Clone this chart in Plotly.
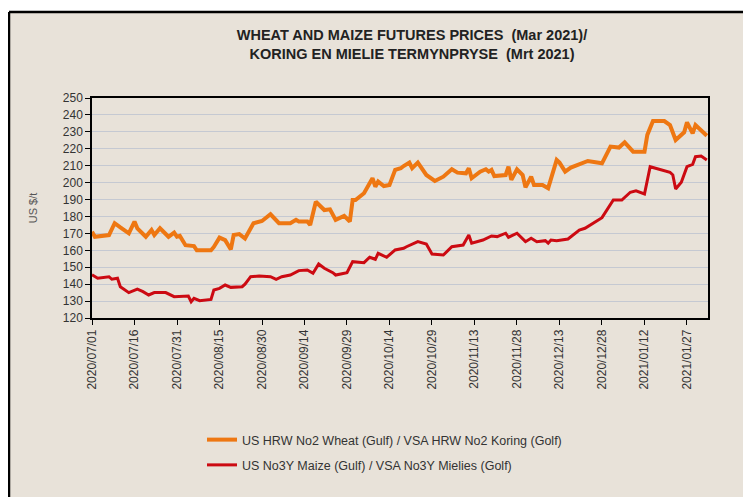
import plotly.graph_objects as go

# ---- data ----
wheat_dates = ["2020-07-01","2020-07-02","2020-07-07","2020-07-09","2020-07-11","2020-07-14","2020-07-16",
               "2020-07-17","2020-07-20","2020-07-22","2020-07-23","2020-07-25","2020-07-28","2020-07-30",
               "2020-07-31","2020-08-01","2020-08-03","2020-08-06","2020-08-07","2020-08-12","2020-08-13",
               "2020-08-15","2020-08-17","2020-08-19","2020-08-20","2020-08-22","2020-08-24","2020-08-27",
               "2020-08-30","2020-09-02","2020-09-05","2020-09-09","2020-09-11","2020-09-12","2020-09-15",
               "2020-09-16","2020-09-18","2020-09-21","2020-09-23","2020-09-25","2020-09-28","2020-09-30",
               "2020-10-01","2020-10-02","2020-10-05","2020-10-08","2020-10-09","2020-10-10","2020-10-12",
               "2020-10-14","2020-10-16","2020-10-18","2020-10-19","2020-10-21","2020-10-22","2020-10-24",
               "2020-10-27","2020-10-30","2020-11-02","2020-11-05","2020-11-07","2020-11-10","2020-11-11",
               "2020-11-12","2020-11-15","2020-11-17","2020-11-18","2020-11-19","2020-11-20","2020-11-24",
               "2020-11-25","2020-11-26","2020-11-28","2020-11-30","2020-12-01","2020-12-03","2020-12-04",
               "2020-12-07","2020-12-09","2020-12-12","2020-12-13","2020-12-15","2020-12-17","2020-12-23",
               "2020-12-28","2020-12-31","2021-01-03","2021-01-05","2021-01-08","2021-01-12","2021-01-13",
               "2021-01-15","2021-01-19","2021-01-21","2021-01-23","2021-01-26","2021-01-27","2021-01-29",
               "2021-01-30","2021-02-01","2021-02-03"]
wheat_vals = [171,168,169,176,173.5,170,177,
              173,168,172,169,173,168,170.5,
              168,168.5,163,162.5,160,160,162,
              167.5,166,160.5,169,169.6,167,176,
              177.3,181.3,176,176,178,177,177,
              175,188.7,183.8,184.2,178,180.3,177,
              189.7,189.7,193.7,202.6,197.6,200.6,198,
              198.6,207.5,208.5,209.8,211.8,208.5,211.8,
              204.5,201,203.5,207.9,205.9,205.5,208.5,
              202.6,206.5,207.9,206.5,207.5,203.9,204.5,
              209.4,201.6,207.9,204.5,197.2,203.5,198.6,
              198.6,196.7,213.4,211.8,206.5,208.9,212.8,
              211.4,221.3,220.7,223.8,218.3,218.3,228.2,
              236.4,236.4,234,225.2,229.7,235.6,229.1,
              234,231.1,227.7]

maize_dates = ["2020-07-01","2020-07-02","2020-07-03","2020-07-07","2020-07-08","2020-07-10","2020-07-11",
               "2020-07-14","2020-07-17","2020-07-19","2020-07-21","2020-07-23","2020-07-27","2020-07-30",
               "2020-08-04","2020-08-05","2020-08-06","2020-08-08","2020-08-12","2020-08-13","2020-08-15",
               "2020-08-17","2020-08-19","2020-08-23","2020-08-24","2020-08-26","2020-08-29","2020-09-02",
               "2020-09-04","2020-09-06","2020-09-09","2020-09-12","2020-09-15","2020-09-17","2020-09-19",
               "2020-09-21","2020-09-24","2020-09-25","2020-09-29","2020-10-01","2020-10-05","2020-10-07",
               "2020-10-09","2020-10-10","2020-10-13","2020-10-16","2020-10-19","2020-10-20","2020-10-24",
               "2020-10-27","2020-10-29","2020-11-02","2020-11-05","2020-11-09","2020-11-11","2020-11-12",
               "2020-11-16","2020-11-19","2020-11-21","2020-11-24","2020-11-25","2020-11-28","2020-12-01",
               "2020-12-03","2020-12-05","2020-12-08","2020-12-09","2020-12-10","2020-12-12","2020-12-16",
               "2020-12-20","2020-12-22","2020-12-28","2021-01-01","2021-01-04","2021-01-07","2021-01-09",
               "2021-01-12","2021-01-14","2021-01-21","2021-01-22","2021-01-23","2021-01-25","2021-01-27",
               "2021-01-29","2021-01-30","2021-02-01","2021-02-03"]
maize_vals = [145.5,144.4,143.5,144.4,142.9,143.5,138.5,
              135,137,135.6,133.6,135,135,132.6,
              133,129.6,131.6,130.2,131,136.5,137.5,
              139.5,138.1,138.5,140,144.4,144.8,144.4,
              142.9,144.4,145.4,148,148.4,146.4,151.9,
              149.4,146.8,145.4,146.8,153.3,152.7,155.9,
              154.7,158.2,155.9,160.2,161.2,162.1,165.1,
              163.7,157.8,157.2,162.1,163.1,169,164.2,
              166.1,168.5,168.1,170.1,167.7,170.1,165.1,
              167.1,165.1,165.7,164.2,166.1,165.7,166.7,
              172,173,179.3,189.7,189.7,194.3,195.1,
              193.3,209.4,206.1,204.5,196.2,200.2,209.4,
              210.8,215.3,215.7,213.4]

tick_dates = ["2020-07-01","2020-07-16","2020-07-31","2020-08-15","2020-08-30","2020-09-14","2020-09-29",
              "2020-10-14","2020-10-29","2020-11-13","2020-11-28","2020-12-13","2020-12-28","2021-01-12",
              "2021-01-27"]
tick_labels = ["2020/07/01","2020/07/16","2020/07/31","2020/08/15","2020/08/30","2020/09/14","2020/09/29",
               "2020/10/14","2020/10/29","2020/11/13","2020/11/28","2020/12/13","2020/12/28","2021/01/12",
               "2021/01/27"]

wheat_name = "US HRW No2 Wheat (Gulf) / VSA HRW No2 Koring (Golf)"
maize_name = "US No3Y Maize (Gulf) / VSA No3Y Mielies (Golf)"
title_text = "WHEAT AND MAIZE FUTURES PRICES  (Mar 2021)/<br>KORING EN MIELIE TERMYNPRYSE  (Mrt 2021)"

BG = "#E8E2D9"
FONT = "Liberation Sans, Arial, sans-serif"

fig = go.Figure()
fig.add_trace(go.Scatter(x=wheat_dates, y=wheat_vals, mode="lines", name=wheat_name,
                         line=dict(color="#EE7712", width=4), legendgroup="a"))
fig.add_trace(go.Scatter(x=maize_dates, y=maize_vals, mode="lines", name=maize_name,
                         line=dict(color="#CC0A12", width=3), legendgroup="b"))

TOP_LINE = (310 - 4) / 220
LEFT_LINE = (1 - 84) / 616

fig.update_layout(
    width=751, height=497,
    margin=dict(l=84, r=51, t=90, b=187),
    paper_bgcolor=BG, plot_bgcolor=BG,
    font=dict(family=FONT, color="#333333", size=12),
    title=dict(text=title_text, x=404/751, xanchor="center", y=1 - 32/497, yanchor="middle",
               font=dict(family=FONT, size=14.5, color="#222222", weight="bold")),
    showlegend=True,
    legend=dict(x=(202 - 92) / 616, xanchor="left", y=(318 - 425) / 220, yanchor="top",
                bgcolor="rgba(0,0,0,0)", traceorder="grouped", tracegroupgap=6,
                font=dict(family=FONT, size=12.5, color="#333333"), itemwidth=30),
    xaxis=dict(type="date", range=["2020-07-01", "2021-02-03 10:00"],
               tickmode="array", tickvals=tick_dates, ticktext=tick_labels, tickangle=-90,
               ticks="outside", ticklen=5, tickcolor="#000000",
               showline=True, linecolor="#000000", linewidth=1.5, mirror=True,
               showgrid=False, zeroline=False, tickfont=dict(size=12, color="#333333")),
    yaxis=dict(range=[120, 250], dtick=10, tick0=120,
               ticks="outside", ticklen=5, tickcolor="#000000",
               showline=True, linecolor="#000000", linewidth=1.5, mirror=True,
               showgrid=True, gridcolor="#C5C9D2", gridwidth=1, zeroline=False,
               tickfont=dict(size=12, color="#333333"),
               title=dict(text="US $/t", font=dict(size=11, color="#555555"), standoff=23)),
    shapes=[
        dict(type="rect", xref="paper", yref="paper", x0=-0.3, x1=1.2, y0=TOP_LINE, y1=2.0,
             fillcolor="white", line=dict(width=0), layer="above"),
        dict(type="line", xref="paper", yref="paper", x0=LEFT_LINE, x1=1.2,
             y0=TOP_LINE, y1=TOP_LINE, line=dict(color="black", width=2.5), layer="above"),
        dict(type="line", xref="paper", yref="paper", x0=LEFT_LINE, x1=LEFT_LINE,
             y0=-1.0, y1=TOP_LINE, line=dict(color="black", width=2.5), layer="above"),
    ],
)

fig.write_html("out.html")
